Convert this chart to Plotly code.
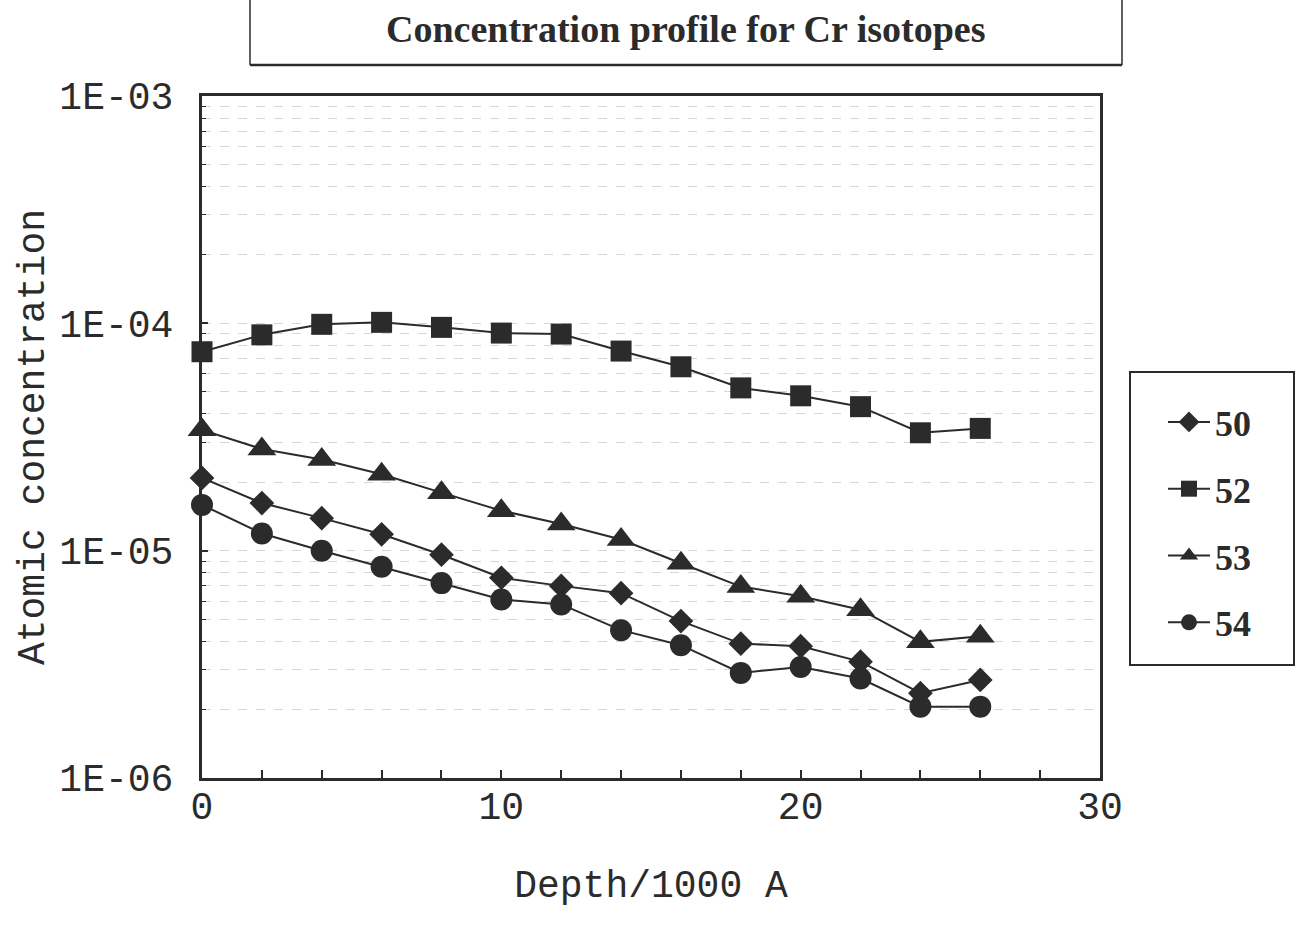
import plotly.graph_objects as go

# Depth in units of 1000 Angstrom
depth = [0, 2, 4, 6, 8, 10, 12, 14, 16, 18, 20, 22, 24, 26]

# Atomic concentration of each Cr isotope along the depth profile
cr50 = [2.09e-5, 1.62e-5, 1.39e-5, 1.18e-5, 9.6e-6, 7.6e-6, 7.0e-6,
        6.5e-6, 4.9e-6, 3.9e-6, 3.8e-6, 3.25e-6, 2.36e-6, 2.7e-6]
cr52 = [7.5e-5, 8.9e-5, 9.9e-5, 1.01e-4, 9.6e-5, 9.06e-5, 8.97e-5,
        7.55e-5, 6.44e-5, 5.2e-5, 4.8e-5, 4.3e-5, 3.3e-5, 3.45e-5]
cr53 = [3.4e-5, 2.8e-5, 2.52e-5, 2.17e-5, 1.8e-5, 1.5e-5, 1.31e-5,
        1.12e-5, 8.8e-6, 6.95e-6, 6.3e-6, 5.5e-6, 3.97e-6, 4.2e-6]
cr54 = [1.59e-5, 1.19e-5, 1.0e-5, 8.5e-6, 7.2e-6, 6.1e-6, 5.8e-6,
        4.47e-6, 3.84e-6, 2.9e-6, 3.08e-6, 2.74e-6, 2.06e-6, 2.06e-6]

series_names = ["50", "52", "53", "54"]
series_values = [cr50, cr52, cr53, cr54]
series_symbols = ["diamond", "square", "triangle-up", "circle"]
series_sizes = [19, 21, 25, 22]

y_tick_vals = [1e-6, 1e-5, 1e-4, 1e-3]
y_tick_text = ["1E-06", "1E-05", "1E-04", "1E-03"]

INK = "#2b2b2b"
GRID = "#d6d6d6"
MONO = "Liberation Mono, DejaVu Sans Mono, monospace"
SERIF = "Liberation Serif, Times New Roman, serif"

fig = go.Figure()
for name, vals, sym, size in zip(series_names, series_values, series_symbols, series_sizes):
    fig.add_trace(go.Scatter(
        x=depth, y=vals, name=name, legendgroup=name,
        mode="lines+markers",
        line=dict(color=INK, width=2),
        marker=dict(symbol=sym, size=size, color=INK),
        cliponaxis=False,
    ))

# minor log positions (2..9 within each decade)
minor_vals = [m * 10.0 ** e for e in range(-6, -3) for m in range(2, 10)]

fig.update_layout(
    width=1298, height=931, autosize=False,
    margin=dict(l=202, r=198, t=96, b=153),
    paper_bgcolor="white", plot_bgcolor="white",
    showlegend=True,
    legend=dict(
        x=(1163 - 202) / 898, y=(778 - 392) / 682,
        xanchor="left", yanchor="top",
        font=dict(family=SERIF, size=36, color=INK, weight="bold"),
        bgcolor="rgba(0,0,0,0)", borderwidth=0,
        tracegroupgap=17, itemwidth=42,
    ),
    xaxis=dict(
        range=[0, 30], dtick=10, tick0=0,
        showline=True, mirror=True, linewidth=3, linecolor=INK,
        ticks="inside", ticklen=8, tickwidth=2, tickcolor=INK,
        showgrid=False, zeroline=False,
        minor=dict(dtick=2, ticks="inside", ticklen=8, tickwidth=2,
                   tickcolor=INK, showgrid=False),
        tickfont=dict(family=MONO, size=38, color=INK),
        ticklabelstandoff=-8,
        title=dict(text="Depth/1000 A", font=dict(family=MONO, size=38, color=INK),
                   standoff=42),
    ),
    yaxis=dict(
        type="log", range=[-6, -3],
        tickvals=y_tick_vals, ticktext=y_tick_text,
        showline=True, mirror=True, linewidth=3, linecolor=INK,
        ticks="inside", ticklen=6, tickwidth=2, tickcolor=INK,
        showgrid=True, gridcolor=GRID, griddash="dash", gridwidth=1,
        zeroline=False,
        minor=dict(tickvals=minor_vals, ticks="inside", ticklen=4, tickwidth=1,
                   tickcolor=INK, showgrid=True, gridcolor=GRID,
                   griddash="dash", gridwidth=1),
        tickfont=dict(family=MONO, size=38, color=INK),
        ticklabelstandoff=18,
        title=dict(text="Atomic concentration", font=dict(family=MONO, size=38, color=INK),
                   standoff=4),
    ),
)

# header box around the title (open at the top edge)
hx0, hx1 = (250 - 202) / 898, (1122 - 202) / 898
hy0, hy1 = (778 - 65) / 682, (778 + 10) / 682
for x0, y0, x1, y1, w in [(hx0, hy0, hx0, hy1, 1.5), (hx1, hy0, hx1, hy1, 1.5),
                          (hx0, hy0, hx1, hy0, 2.5)]:
    fig.add_shape(type="line", xref="paper", yref="paper",
                  x0=x0, y0=y0, x1=x1, y1=y1, line=dict(color=INK, width=w))

fig.add_annotation(
    text="<b>Concentration profile for Cr isotopes</b>",
    xref="paper", yref="paper", x=(686 - 202) / 898, y=(778 - 29) / 682,
    xanchor="center", yanchor="middle", showarrow=False,
    font=dict(family=SERIF, size=38, color=INK),
)

# legend frame
fig.add_shape(type="rect", xref="paper", yref="paper",
              x0=(1130 - 202) / 898, x1=(1294 - 202) / 898,
              y0=(778 - 665) / 682, y1=(778 - 372) / 682,
              line=dict(color=INK, width=2), fillcolor="rgba(0,0,0,0)")

fig.write_html("out.html")
